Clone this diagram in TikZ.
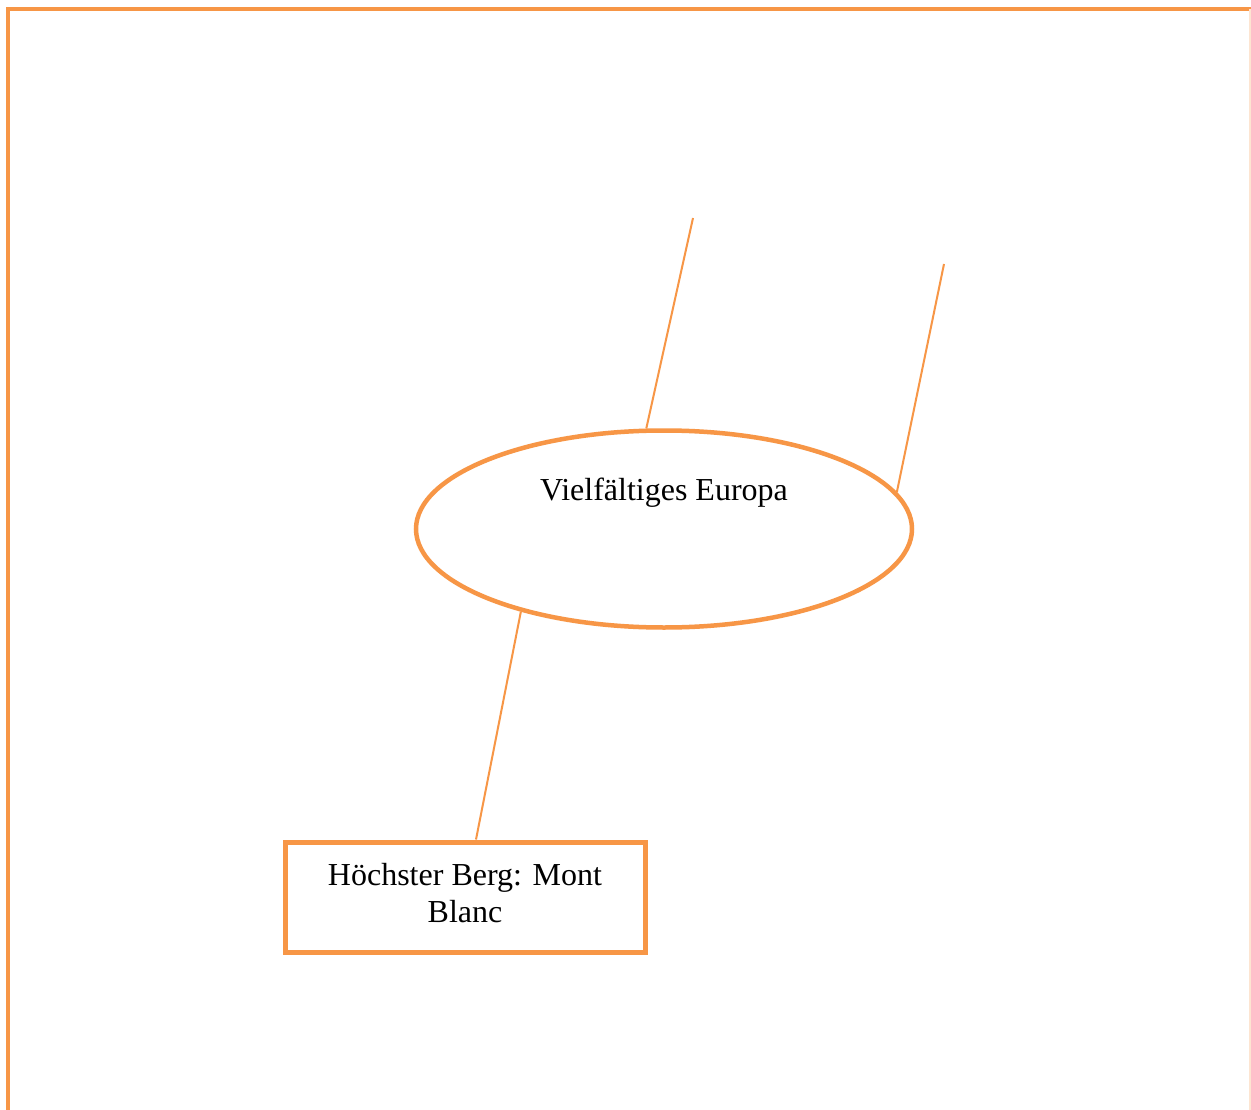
\documentclass[tikz,border=0pt]{standalone}
\usepackage{fontspec}
\setmainfont{Liberation Serif}
\usetikzlibrary{shapes.geometric}
\definecolor{acc}{HTML}{F79646}
\tikzset{
  frame/.style={draw=acc,line width=4pt},
  conn/.style={draw=acc,line width=2pt},
  ell/.style={ellipse,draw=acc,line width=4.5pt,minimum width=496pt,minimum height=197pt,inner sep=0pt},
  box/.style={rectangle,draw=acc,line width=5pt,minimum width=360pt,minimum height=110pt,inner sep=0pt},
  lbl/.style={font=\fontsize{32}{37}\selectfont,align=center}
}
\begin{document}
\begin{tikzpicture}[x=1pt,y=-1pt]
\useasboundingbox (0,0) rectangle (1251,1110);
\fill[white] (0,0) rectangle (1251,1110);
\draw[frame] (8,1112) -- (8,9) -- (1253,9);
\draw[draw=acc!25,line width=1.5pt] (1250,9) -- (1250,1112);
\node[ell] (e) at (664,529) {};
\node[lbl] (t) at (664,493) {Vielfältiges Europa};
\node[box] (b) at (465,897) {};
\node[lbl] (bt) at (465,893) {Höchster Berg: Mont\\Blanc};
\coordinate (f1) at (693,218);
\coordinate (f2) at (944,264);
\draw[conn] (e.100.3) -- (f1);
\draw[conn] (e.9.5) -- (f2);
\draw[conn] (e.210.7) -- (b.north -| 476,0);
\end{tikzpicture}
\end{document}
